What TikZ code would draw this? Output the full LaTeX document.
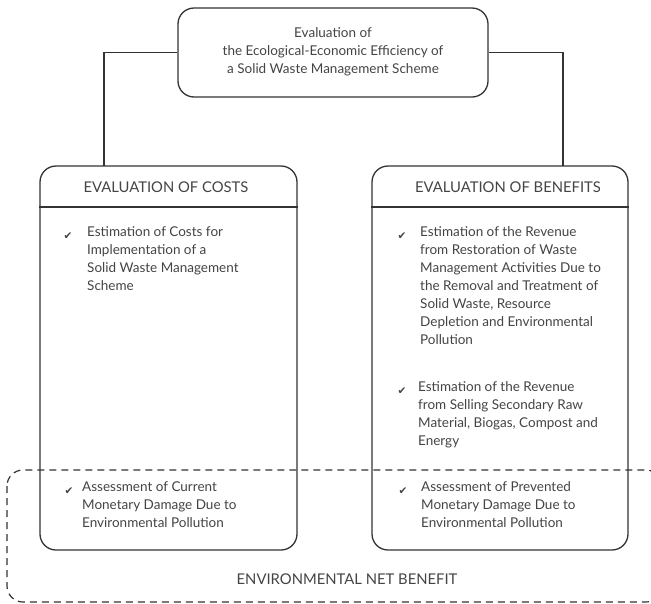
\documentclass[tikz,border=0pt]{standalone}
\usepackage{fontspec}
\setmainfont{Lato}
\newfontfamily\symfont{DejaVu Sans}
\definecolor{inkline}{HTML}{333333}
\definecolor{inktext}{HTML}{444444}
\newcommand{\bodysize}{\fontsize{13.5}{18}\selectfont}
\newcommand{\capsize}{\fontsize{14.8}{16}\selectfont}
\begin{document}
\begin{tikzpicture}[x=1pt,y=-1pt,
  frame/.style={draw=inkline, line width=1.3pt},
  panel/.style={frame, rounded corners=16pt, inner sep=0pt},
  link/.style={draw=inkline, line width=1.3pt},
  netzone/.style={draw=inkline, line width=1.2pt, dash pattern=on 7pt off 5pt, rounded corners=16pt},
  heading/.style={text=inktext, font=\capsize, inner sep=0pt},
  item/.style={text=inktext, font=\bodysize, align=left, anchor=north west, inner sep=0pt},
  tick/.style={text=inktext, font=\symfont\fontsize{10.5}{10.5}\selectfont, anchor=base, inner sep=0pt}
]
\path[use as bounding box] (0,0) rectangle (651,603);
\clip (0,0) rectangle (651,603);

% top box
\node[panel, minimum width=310pt, minimum height=89pt] (top) at (333,52.5) {};
\node[text=inktext, font=\bodysize, align=center, inner sep=0pt] (toptext) at (333,52)
  {Evaluation of\\the Ecological-Economic Efficiency of\\a Solid Waste Management Scheme};

% two panels
\node[panel, minimum width=257pt, minimum height=384pt] (costs) at (168.5,358) {};
\node[panel, minimum width=256pt, minimum height=384pt] (benefits) at (500,358) {};
\coordinate (hdrL) at (0,207);
\draw[frame] (costs.west |- hdrL) -- (costs.east |- hdrL);
\draw[frame] (benefits.west |- hdrL) -- (benefits.east |- hdrL);

% connectors from the top box
\coordinate (cL) at (104,166);
\coordinate (cR) at (563,166);
\draw[link] (top.west) -| (cL);
\draw[link] (top.east) -| (cR);

% headings
\node[heading] (hcosts) at (166,187) {EVALUATION OF COSTS};
\node[heading] (hbenefits) at (508,187) {EVALUATION OF BENEFITS};

% items, costs side
\node[tick] (t1) at (68,239) {✔};
\node[item] (i1) at (87,226) {Estimation of Costs for\\Implementation of a\\Solid Waste Management\\Scheme};
\node[tick] (t3) at (69,494) {✔};
\node[item] (i3) at (82,481) {Assessment of Current\\Monetary Damage Due to\\Environmental Pollution};

% items, benefits side
\node[tick] (t2) at (402,239) {✔};
\node[item] (i2) at (420,226) {Estimation of the Revenue\\from Restoration of Waste\\Management Activities Due to\\the Removal and Treatment of\\Solid Waste, Resource\\Depletion and Environmental\\Pollution};
\node[tick] (t4) at (402,394) {✔};
\node[item] (i4) at (418,381) {Estimation of the Revenue\\from Selling Secondary Raw\\Material, Biogas, Compost and\\Energy};
\node[tick] (t5) at (403,494) {✔};
\node[item] (i5) at (421,481) {Assessment of Prevented\\Monetary Damage Due to\\Environmental Pollution};

% environmental net benefit zone
\draw[netzone] (7,470) rectangle (662,602);
\node[heading] (net) at (347,579) {ENVIRONMENTAL NET BENEFIT};
\end{tikzpicture}
\end{document}
